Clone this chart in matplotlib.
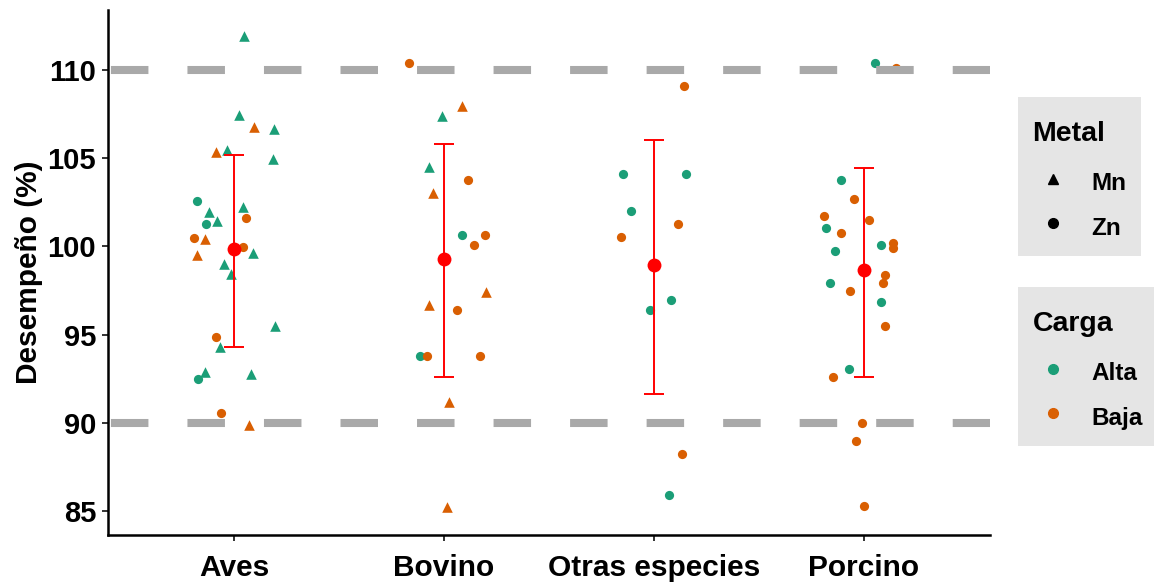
import numpy as np
import matplotlib.pyplot as plt
from matplotlib.lines import Line2D

plt.rcParams['font.family'] = ['Liberation Sans', 'DejaVu Sans']
plt.rcParams['font.weight'] = 'bold'
plt.rcParams['lines.scale_dashes'] = False

especies = ['Aves', 'Bovino', 'Otras especies', 'Porcino']

# valores (desempeno %), jitter horizontal, metal y carga
aves_valor = [111.93, 107.43, 106.79, 106.67, 105.37, 105.47, 104.94, 102.58, 101.94, 102.24,
              101.6, 101.3, 101.46, 100.5, 100.41, 99.95, 99.61, 99.52, 99.0, 98.42,
              95.52, 94.86, 94.32, 92.91, 92.5, 92.78, 90.55, 89.89]
aves_jitter = [0.048, 0.025, 0.097, 0.19, -0.086, -0.035, 0.187, -0.178, -0.118, 0.041,
               0.059, -0.133, -0.081, -0.189, -0.137, 0.044, 0.092, -0.175, -0.048, -0.014,
               0.197, -0.087, -0.067, -0.138, -0.17, 0.08, -0.06, 0.07]
aves_metal = ['Mn', 'Mn', 'Mn', 'Mn', 'Mn', 'Mn', 'Mn', 'Zn', 'Mn', 'Mn',
              'Zn', 'Zn', 'Mn', 'Zn', 'Mn', 'Zn', 'Mn', 'Mn', 'Mn', 'Mn',
              'Mn', 'Zn', 'Mn', 'Mn', 'Zn', 'Mn', 'Zn', 'Mn']
aves_carga = ['Alta', 'Alta', 'Baja', 'Alta', 'Baja', 'Alta', 'Alta', 'Alta', 'Alta', 'Alta',
              'Baja', 'Alta', 'Alta', 'Baja', 'Baja', 'Baja', 'Alta', 'Baja', 'Alta', 'Alta',
              'Alta', 'Baja', 'Alta', 'Alta', 'Alta', 'Alta', 'Baja', 'Baja']

bovino_valor = [110.38, 107.98, 107.41, 104.5, 103.75, 103.05, 100.63, 100.63, 100.07, 97.44,
                96.69, 96.39, 93.78, 93.78, 93.78, 91.21, 85.22]
bovino_jitter = [-0.167, 0.084, -0.011, -0.07, 0.114, -0.052, 0.087, 0.197, 0.143, 0.199,
                 -0.07, 0.06, -0.114, -0.082, 0.17, 0.025, 0.013]
bovino_metal = ['Zn', 'Mn', 'Mn', 'Mn', 'Zn', 'Mn', 'Zn', 'Zn', 'Zn', 'Mn',
                'Mn', 'Zn', 'Zn', 'Zn', 'Zn', 'Mn', 'Mn']
bovino_carga = ['Baja', 'Baja', 'Alta', 'Alta', 'Baja', 'Baja', 'Alta', 'Baja', 'Baja', 'Baja',
                'Baja', 'Baja', 'Alta', 'Baja', 'Baja', 'Baja', 'Baja']

otras_valor = [109.08, 104.09, 104.09, 102.01, 101.27, 100.52, 96.95, 96.4, 88.26, 85.9]
otras_jitter = [0.144, -0.149, 0.152, -0.111, 0.116, -0.157, 0.08, -0.02, 0.135, 0.07]
otras_metal = ['Zn'] * 10
otras_carga = ['Baja', 'Alta', 'Alta', 'Alta', 'Baja', 'Baja', 'Alta', 'Alta', 'Baja', 'Alta']

porcino_valor = [110.4, 110.1, 103.77, 102.67, 101.71, 101.48, 101.05, 100.75, 100.08, 100.22,
                 99.9, 99.76, 98.37, 97.92, 97.92, 97.46, 96.84, 95.52, 93.04, 92.61,
                 90.0, 89.0, 85.31]
porcino_jitter = [0.054, 0.154, -0.11, -0.046, -0.192, 0.025, -0.182, -0.111, 0.081, 0.137,
                  0.137, -0.137, 0.101, 0.092, -0.163, -0.065, 0.081, 0.101, -0.073, -0.146,
                  -0.01, -0.037, 0.0]
porcino_metal = ['Zn'] * 23
porcino_carga = ['Alta', 'Baja', 'Alta', 'Baja', 'Baja', 'Baja', 'Alta', 'Baja', 'Alta', 'Baja',
                 'Baja', 'Alta', 'Baja', 'Baja', 'Alta', 'Baja', 'Alta', 'Baja', 'Alta', 'Baja',
                 'Baja', 'Baja', 'Baja']

# media y barra de error por especie
medias = [99.84, 99.27, 98.95, 98.67]
limite_inf = [94.32, 92.59, 91.64, 92.59]
limite_sup = [105.17, 105.81, 106.03, 104.43]

umbrales = [90, 110]

colores = {'Alta': '#1B9E77', 'Baja': '#D95F02'}
marcadores = {'Mn': '^', 'Zn': 'o'}
tamanos = {'Mn': 58, 'Zn': 44}

grupos = [
    (aves_valor, aves_jitter, aves_metal, aves_carga),
    (bovino_valor, bovino_jitter, bovino_metal, bovino_carga),
    (otras_valor, otras_jitter, otras_metal, otras_carga),
    (porcino_valor, porcino_jitter, porcino_metal, porcino_carga),
]

fig = plt.figure(figsize=(11.54, 5.82), dpi=100)
ax = fig.add_axes([108 / 1154, 47 / 582, 882 / 1154, 525 / 582])

for i, (valor, jit, metal, carga) in enumerate(grupos):
    for v, j, m, c in zip(valor, jit, metal, carga):
        ax.scatter(i + j, v, marker=marcadores[m], s=tamanos[m], color=colores[c],
                   linewidths=0, zorder=2)

for u in umbrales:
    ax.axhline(u, color='#A9A9A9', linewidth=5.8, linestyle=(53.0, (27.0, 28.1)),
               zorder=3)

x = np.arange(len(especies))
medias = np.array(medias)
err = [medias - np.array(limite_inf), np.array(limite_sup) - medias]
ax.errorbar(x, medias, yerr=err, fmt='none', ecolor='red', elinewidth=1.4,
            capsize=7.2, capthick=1.4, zorder=4)
ax.scatter(x, medias, marker='o', s=100, color='red', linewidths=0, zorder=5)

ax.set_xlim(-0.6, 3.6)
ax.set_ylim(83.65, 113.4)
ax.set_xticks(x)
ax.set_xticklabels(especies)
ax.set_yticks([85, 90, 95, 100, 105, 110])
ax.set_ylabel('Desempeño (%)', fontsize=21.5, fontweight='bold', labelpad=3)

for s in ['top', 'right']:
    ax.spines[s].set_visible(False)
for s in ['left', 'bottom']:
    ax.spines[s].set_linewidth(1.8)
    ax.spines[s].set_color('black')
ax.tick_params(axis='both', length=4.5, width=1.4, color='#333333', labelcolor='black')
ax.tick_params(axis='y', pad=4, labelsize=21)
ax.tick_params(axis='x', pad=9, labelsize=21.5)

props = {'weight': 'bold', 'size': 17.5}
tit = {'weight': 'bold', 'size': 20.5}
estilo = dict(loc='upper left', bbox_transform=fig.transFigure, frameon=True,
              fancybox=False, facecolor='#E5E5E5', edgecolor='none', framealpha=1,
              borderpad=0.6, handlelength=1.7, handletextpad=0.7, labelspacing=0.6,
              handleheight=1.5, borderaxespad=0, prop=props,
              title_fontproperties=tit, alignment='left')

h_metal = [Line2D([], [], marker=marcadores[m], color='black', linestyle='none',
                  markersize=7) for m in ['Mn', 'Zn']]
leg1 = fig.legend(h_metal, ['Mn', 'Zn'], title='\nMetal',
                  bbox_to_anchor=(1018 / 1154, 1 - 97 / 582), **estilo)

h_carga = [Line2D([], [], marker='o', color=colores[c], linestyle='none',
                  markersize=7) for c in ['Alta', 'Baja']]
leg2 = fig.legend(h_carga, ['Alta', 'Baja'], title='\nCarga',
                  bbox_to_anchor=(1018 / 1154, 1 - 287 / 582), **estilo)

# titulo un poco mas abajo y separado de las entradas
for leg in (leg1, leg2):
    leg.get_title().set_linespacing(0.16)
    leg._legend_box.sep = 15

fig.savefig('out.png', dpi=100)
